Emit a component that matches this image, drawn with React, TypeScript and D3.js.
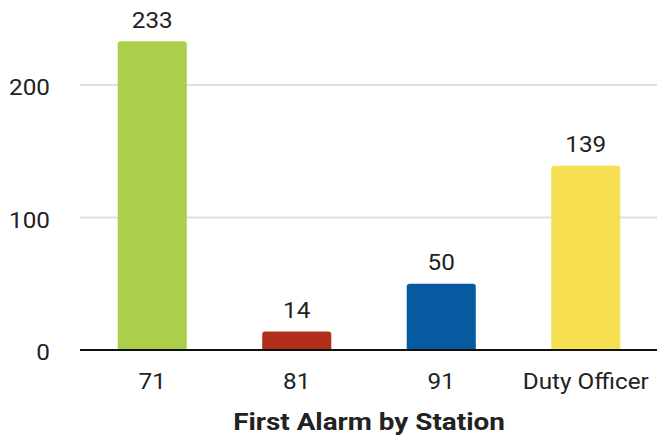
import React from "react";
import * as d3 from "d3";

const categories = ["71", "81", "91", "Duty Officer"];
const values = [233, 14, 50, 139];
const colors = ["#abcf4a", "#b0301c", "#055aa0", "#f6e052"];
const yTicks = [0, 100, 200];
const title = "First Alarm by Station";

const W = 657;
const H = 438;
const left = 80;
const right = 658;
const baseY = 350;
const font = "Roboto, 'Noto Sans', sans-serif";
const SX = 1.13;

function roundedTopBar(x: number, y: number, w: number, h: number, r: number) {
  const rr = Math.min(r, h / 2, w / 2);
  return `M${x},${y + h}V${y + rr}Q${x},${y} ${x + rr},${y}H${x + w - rr}Q${x + w},${y} ${x + w},${y + rr}V${y + h}Z`;
}

function Label(props: { x: number; y: number; anchor: string; size: number; weight?: string; sx: number; children: any }) {
  return (
    <text
      transform={`translate(${props.x},${props.y}) scale(${props.sx},1)`}
      textAnchor={props.anchor}
      fontSize={props.size}
      fontWeight={props.weight || "normal"}
      fill="#222"
    >
      {props.children}
    </text>
  );
}

export default function App() {
  const x = d3.scaleBand<string>().domain(categories).range([left, right]).paddingInner(0.522).paddingOuter(0.261);
  const y = d3.scaleLinear().domain([0, 200]).range([baseY, baseY - 265]);

  return (
    <svg width={W} height={H} style={{ position: "absolute", left: 0, top: 0 }} fontFamily={font}>
      <rect width={W} height={H} fill="#fff" />
      {yTicks.map((t) => (
        <g key={t}>
          {t !== 0 && <line x1={left} x2={W} y1={y(t)} y2={y(t)} stroke="#e0e0e0" strokeWidth={2} />}
          <Label x={50} y={y(t) + 10} anchor="end" size={21.5} sx={SX}>
            {t}
          </Label>
        </g>
      ))}
      {categories.map((c, i) => {
        const bx = x(c)!;
        const by = y(values[i]);
        const cx = bx + x.bandwidth() / 2;
        return (
          <g key={c}>
            <path d={roundedTopBar(bx, by, x.bandwidth(), baseY - by, 3)} fill={colors[i]} />
            <Label x={cx} y={by - 13.5} anchor="middle" size={21.5} sx={SX}>
              {values[i]}
            </Label>
            <Label x={cx} y={389} anchor="middle" size={21.5} sx={SX}>
              {c}
            </Label>
          </g>
        );
      })}
      <line x1={left} x2={W} y1={baseY} y2={baseY} stroke="#111" strokeWidth={2} />
      <Label x={369} y={430} anchor="middle" size={24} weight="bold" sx={1.16}>
        {title}
      </Label>
    </svg>
  );
}
